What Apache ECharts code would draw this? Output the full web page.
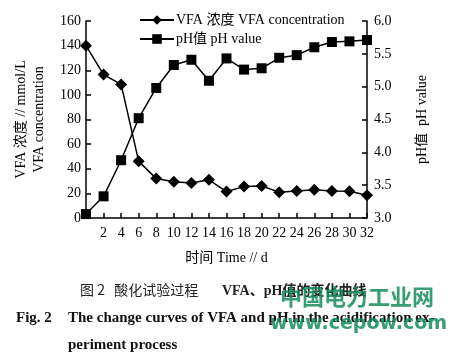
<!DOCTYPE html>
<html><head><meta charset="utf-8">
<script src="https://cdn.jsdelivr.net/npm/echarts@6/dist/echarts.min.js"></script>
<style>html,body{margin:0;padding:0;background:#fff}#c{width:457px;height:356px}</style>
</head><body><div id="c"></div>
<script>
const days = [0,2,4,6,8,10,12,14,16,18,20,22,24,26,28,30,32];
const vfa = [140,116.5,108.5,46,32,29.5,28.5,31,21.5,25.5,26,21,22,23,22,21.7,18.5];
const ph = [3.06,3.33,3.88,4.52,4.98,5.33,5.41,5.09,5.43,5.26,5.28,5.44,5.48,5.60,5.68,5.69,5.71];
const leftTicks = [0,20,40,60,80,100,120,140,160];
const rightTicks = [3.0,3.5,4.0,4.5,5.0,5.5,6.0];

const F = '"Liberation Serif","DejaVu Serif","Noto Sans CJK SC",serif';
const chart = echarts.init(document.getElementById('c'));
const axisBase = {
  axisLine:{show:true,lineStyle:{color:'#000',width:1.5}},
  axisTick:{show:true,inside:true,length:5,lineStyle:{color:'#000',width:1.5}},
  splitLine:{show:false},
  axisLabel:{color:'#000',fontFamily:F,fontSize:14}
};
chart.setOption({
  animation:false,
  backgroundColor:'#fff',
  grid:{left:86,right:90,top:21,bottom:138},
  legend:{
    orient:'vertical', left:134, top:8, itemWidth:34, itemHeight:12, itemGap:5,
    textStyle:{color:'#000',fontFamily:F,fontSize:14, padding:[0,0,0,-3]},
    data:[{name:'VFA 浓度 VFA concentration'},{name:'pH值 pH value'}]
  },
  xAxis:Object.assign({}, axisBase, {
    type:'value', min:0, max:32, interval:2,
    axisLabel:Object.assign({}, axisBase.axisLabel, {margin:8, formatter:v=>v===0?'':String(v)}),
    name:'时间 Time // d', nameLocation:'middle', nameGap:33,
    nameTextStyle:{color:'#000',fontFamily:F,fontSize:14}
  }),
  yAxis:[
    Object.assign({}, axisBase, {
      type:'value', min:leftTicks[0], max:leftTicks[leftTicks.length-1], interval:20, position:'left',
      axisLabel:Object.assign({}, axisBase.axisLabel, {margin:5}),
      name:'VFA 浓度 // mmol/L\nVFA concentration', nameLocation:'middle', nameGap:38, nameRotate:90,
      nameTextStyle:{color:'#000',fontFamily:F,fontSize:14,lineHeight:18}
    }),
    Object.assign({}, axisBase, {
      type:'value', min:rightTicks[0], max:rightTicks[rightTicks.length-1], interval:0.5, position:'right',
      axisLabel:Object.assign({}, axisBase.axisLabel, {margin:7, formatter:v=>v.toFixed(1)}),
      name:'pH值  pH value', nameLocation:'middle', nameGap:48, nameRotate:90,
      nameTextStyle:{color:'#000',fontFamily:F,fontSize:14}
    })
  ],
  series:[
    {name:'VFA 浓度 VFA concentration', type:'line', yAxisIndex:0,
     data:days.map((d,i)=>[d,vfa[i]]), symbol:'diamond', symbolSize:12,
     lineStyle:{color:'#000',width:1.5}, itemStyle:{color:'#000'}},
    {name:'pH值 pH value', type:'line', yAxisIndex:1,
     data:days.map((d,i)=>[d,ph[i]]), symbol:'rect', symbolSize:10,
     lineStyle:{color:'#000',width:1.5}, itemStyle:{color:'#000'}}
  ],
  graphic:[
    {type:'text', left:80, top:283, style:{text:'图 2   酸化试验过程 ', font:'14px "Noto Sans CJK SC",serif', fill:'#222'}},
    {type:'text', left:222, top:284, style:{text:'VFA、pH值的变化曲线', font:'bold 14px "Liberation Serif","Noto Sans CJK SC",serif', fill:'#222'}},
    {type:'text', left:16, top:311, style:{text:'Fig. 2', font:'bold 15px "Liberation Serif",serif', fill:'#111'}},
    {type:'text', left:68, top:311, style:{text:'The change curves of VFA and pH in the acidification ex-', font:'bold 15px "Liberation Serif",serif', fill:'#111'}},
    {type:'text', left:68, top:338, style:{text:'periment process', font:'bold 15px "Liberation Serif",serif', fill:'#111'}},
    {type:'text', left:280, top:286, style:{text:'中国电力工业网', font:'bold 22px "Noto Sans CJK SC",sans-serif', fill:'rgba(20,140,90,0.85)'}},
    {type:'text', left:270, top:315, style:{text:'www.cepow.com', font:'bold 19px "DejaVu Sans",sans-serif', fill:'rgba(20,140,90,0.85)'}}
  ]
});
</script></body></html>
